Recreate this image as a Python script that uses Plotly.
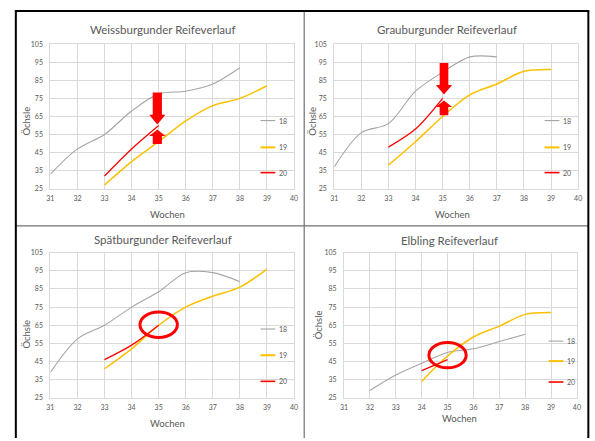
import plotly.graph_objects as go

W, H = 595, 441
FONT = "Lato"
TXT = "#595959"
GRID = "#D9D9D9"
COL = {"18": "#A5A5A5", "19": "#FFC000", "20": "#FF0000"}
WID = {"18": 1.1, "19": 1.5, "20": 1.3}
LEGW = {"18": 1.1, "19": 2.0, "20": 1.6}

# ---------------- data ----------------
titles = ["Weissburgunder Reifeverlauf", "Grauburgunder Reifeverlauf",
          "Spätburgunder Reifeverlauf", "Elbling Reifeverlauf"]
series_names = ["18", "19", "20"]

# Weissburgunder
wb_x18 = [31, 32, 33, 34, 35, 36, 37, 38]
wb_y18 = [33, 47, 55, 68, 77.5, 79, 83, 92]
wb_x19 = [33, 34, 35, 36, 37, 38, 39]
wb_y19 = [27, 40, 51, 62.5, 71, 75, 82]
wb_x20 = [33, 34, 35]
wb_y20 = [32, 47, 60]

# Grauburgunder
gb_x18 = [31, 32, 33, 34, 35, 36, 37]
gb_y18 = [37, 56, 61, 79, 89.5, 98, 98]
gb_x19 = [33, 34, 35, 36, 37, 38, 39]
gb_y19 = [38, 51, 65, 77, 83, 90, 91]
gb_x20 = [33, 34, 35]
gb_y20 = [48, 58, 75]

# Spätburgunder
sb_x18 = [31, 32, 33, 34, 35, 36, 37, 38]
sb_y18 = [39, 57.5, 65, 75, 83.5, 94, 94, 89]
sb_x19 = [33, 34, 35, 36, 37, 38, 39]
sb_y19 = [41, 52, 65, 75, 81, 86, 96]
sb_x20 = [33, 34, 35]
sb_y20 = [46, 54, 65]

# Elbling
el_x18 = [32, 33, 34, 35, 36, 37, 38]
el_y18 = [29, 37.5, 44, 50, 52, 56, 60]
el_x19 = [34, 35, 36, 37, 38, 39]
el_y19 = [34, 48, 58.5, 64.5, 71, 72]
el_x20 = [34, 35]
el_y20 = [40, 46]

x_ticks = [31, 32, 33, 34, 35, 36, 37, 38, 39, 40]
y_ticks = [25, 35, 45, 55, 65, 75, 85, 95, 105]

panels = [
    {"18": (wb_x18, wb_y18), "19": (wb_x19, wb_y19), "20": (wb_x20, wb_y20)},
    {"18": (gb_x18, gb_y18), "19": (gb_x19, gb_y19), "20": (gb_x20, gb_y20)},
    {"18": (sb_x18, sb_y18), "19": (sb_x19, sb_y19), "20": (sb_x20, sb_y20)},
    {"18": (el_x18, el_y18), "19": (el_x19, el_y19), "20": (el_x20, el_y20)},
]

# ---------------- layout helpers (pixel -> paper) ----------------
def px(x):
    return x / W

def py(y):
    return 1 - y / H

# plot areas in pixels: (left, right, top, bottom)
areas = [(47, 294, 40, 187), (334.7, 582, 40, 187),
         (47, 294, 252.3, 400), (344.7, 580.7, 252.3, 400)]
title_pos = [(161, 25), (449, 25), (161, 238.5), (452, 240)]
xlab_pos = [(166, 213), (455, 213), (166, 426.5), (462, 421.5)]
ylab_pos = [(23, 118), (313, 118), (23, 335), (318.5, 326)]
leg_pos = [
    (260, 275, [117.7, 145, 170.7]),
    (548, 563, [117.7, 145, 170.7]),
    (260, 275, [330, 356.7, 383.3]),
    (552, 567, [342.3, 362.7, 384]),
]

fig = go.Figure()
shapes = []
annotations = []

for i, p in enumerate(panels):
    n = "" if i == 0 else str(i + 1)
    xa, ya = "x" + n, "y" + n
    l, r, t, b = areas[i]
    fig.update_layout(**{
        "xaxis" + n: dict(domain=[px(l), px(r)], range=[31, 40], tickvals=x_ticks,
                          showgrid=True, gridcolor=GRID, gridwidth=1, zeroline=False,
                          showline=True, linecolor=GRID, linewidth=1, mirror=True,
                          ticks="", tickfont=dict(family=FONT, size=7, color=TXT),
                          anchor=ya, fixedrange=True, ticklabelstandoff=3),
        "yaxis" + n: dict(domain=[py(b), py(t)], range=[25, 105], tickvals=y_ticks,
                          showgrid=True, gridcolor=GRID, gridwidth=1, zeroline=False,
                          showline=True, linecolor=GRID, linewidth=1, mirror=True,
                          ticks="", tickfont=dict(family=FONT, size=7, color=TXT),
                          anchor=xa, fixedrange=True, ticklabelstandoff=5),
    })
    for s in series_names:
        xs, ys = p[s]
        fig.add_trace(go.Scatter(x=xs, y=ys, mode="lines", name=s, xaxis=xa, yaxis=ya,
                                 line=dict(color=COL[s], width=WID[s], shape="spline", smoothing=0.9),
                                 showlegend=False, hoverinfo="skip"))
    # titles
    tx, ty = title_pos[i]
    annotations.append(dict(x=px(tx), y=py(ty), xref="paper", yref="paper", text=titles[i],
                            showarrow=False, xanchor="center", yanchor="middle",
                            font=dict(family=FONT, size=11.5, color=TXT)))
    wx, wy = xlab_pos[i]
    annotations.append(dict(x=px(wx), y=py(wy), xref="paper", yref="paper", text="Wochen",
                            showarrow=False, xanchor="center", yanchor="middle",
                            font=dict(family=FONT, size=9.5, color=TXT)))
    ox, oy = ylab_pos[i]
    annotations.append(dict(x=px(ox), y=py(oy), xref="paper", yref="paper", text="Öchsle",
                            showarrow=False, xanchor="center", yanchor="middle", textangle=-90,
                            font=dict(family=FONT, size=9.5, color=TXT)))
    # manual legend
    lx0, lx1, lys = leg_pos[i]
    for s, ly in zip(series_names, lys):
        shapes.append(dict(type="line", xref="paper", yref="paper", x0=px(lx0), x1=px(lx1),
                           y0=py(ly), y1=py(ly), line=dict(color=COL[s], width=LEGW[s])))
        annotations.append(dict(x=px(lx1 + 1.5), y=py(ly), xref="paper", yref="paper", text=s,
                                showarrow=False, xanchor="left", yanchor="middle",
                                font=dict(family=FONT, size=7, color=TXT)))


def block_arrow(xref, yref, xc, y_tail, y_base, y_tip, shaft_hw, head_hw):
    path = (f"M {xc - shaft_hw},{y_tail} L {xc + shaft_hw},{y_tail} "
            f"L {xc + shaft_hw},{y_base} L {xc + head_hw},{y_base} L {xc},{y_tip} "
            f"L {xc - head_hw},{y_base} L {xc - shaft_hw},{y_base} Z")
    return dict(type="path", xref=xref, yref=yref, path=path,
                fillcolor="#FF0000", line=dict(color="#FF0000", width=0))

# Weissburgunder arrows
shapes.append(block_arrow("x", "y", 34.95, 78.3, 66.0, 60.5, 0.17, 0.30))
shapes.append(block_arrow("x", "y", 34.95, 49.7, 54.2, 57.8, 0.17, 0.30))
# Grauburgunder arrows
shapes.append(block_arrow("x2", "y2", 35.05, 94.6, 82.4, 77.1, 0.16, 0.30))
shapes.append(block_arrow("x2", "y2", 35.05, 65.7, 70.2, 73.9, 0.16, 0.30))
# circles
shapes.append(dict(type="circle", xref="x3", yref="y3", x0=35 - 0.69, x1=35 + 0.69,
                   y0=65.3 - 7.0, y1=65.3 + 7.0, line=dict(color="#FF0000", width=3)))
shapes.append(dict(type="circle", xref="x4", yref="y4", x0=35 - 0.72, x1=35 + 0.72,
                   y0=48.5 - 7.0, y1=48.5 + 7.0, line=dict(color="#FF0000", width=3)))

# frame / dividers
shapes.append(dict(type="line", xref="paper", yref="paper", x0=px(304.3), x1=px(304.3),
                   y0=py(6), y1=py(441), line=dict(color="#707070", width=1.2)))
shapes.append(dict(type="line", xref="paper", yref="paper", x0=px(12), x1=px(592),
                   y0=py(225), y1=py(225), line=dict(color="#707070", width=1.2)))
shapes.append(dict(type="line", xref="paper", yref="paper", x0=px(12), x1=px(12),
                   y0=py(6), y1=py(441), line=dict(color="#000000", width=2)))
shapes.append(dict(type="line", xref="paper", yref="paper", x0=px(592.3), x1=px(592.3),
                   y0=py(6), y1=py(441), line=dict(color="#000000", width=2)))
shapes.append(dict(type="line", xref="paper", yref="paper", x0=px(11), x1=px(593.3),
                   y0=py(6), y1=py(6), line=dict(color="#000000", width=2)))

fig.update_layout(width=W, height=H, margin=dict(l=0, r=0, t=0, b=0),
                  paper_bgcolor="white", plot_bgcolor="white",
                  shapes=shapes, annotations=annotations, showlegend=False,
                  font=dict(family=FONT, color=TXT))

fig.write_html("out.html", config={"displayModeBar": False})
